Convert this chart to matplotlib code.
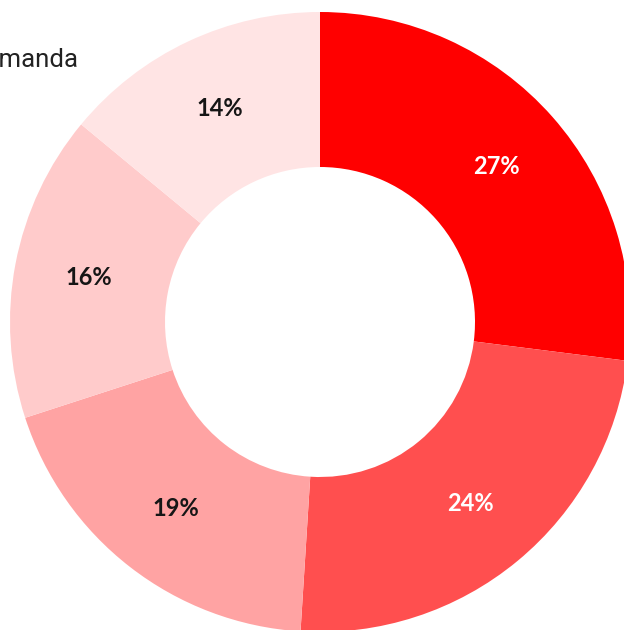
import matplotlib.pyplot as plt

# slice values, clockwise from 12 o'clock
shares = [27, 24, 19, 16, 14]
colors = ['#ff0000', '#ff4f4f', '#ffa3a3', '#ffcbcb', '#ffe4e4']
label_colors = ['white', 'white', '#161616', '#161616', '#161616']
title = 'Demanda'

fig = plt.figure(figsize=(6.24, 6.30), dpi=100)
ax = fig.add_axes([0, 0, 1, 1])

# center of the donut sits at pixel (320, 322), outer radius 310 px
R = 310.0

wedges, texts, autotexts = ax.pie(
    shares, colors=colors, startangle=90, counterclock=False,
    radius=1.0, autopct='%d%%', pctdistance=0.76,
    wedgeprops=dict(width=0.5, linewidth=0),
    textprops=dict(fontsize=17, fontweight='bold', family='Lato'),
)
for t, c in zip(autotexts, label_colors):
    t.set_color(c)

ax.set_xlim(-320 / R, (624 - 320) / R)
ax.set_ylim(-(630 - 322) / R, 322 / R)
ax.set_aspect('auto')
ax.axis('off')

fig.text(79 / 624, 1 - 60 / 630, title, ha='right', va='center',
         fontsize=18.5, color='#222222', family='Roboto')

plt.savefig('out.png', dpi=100)
